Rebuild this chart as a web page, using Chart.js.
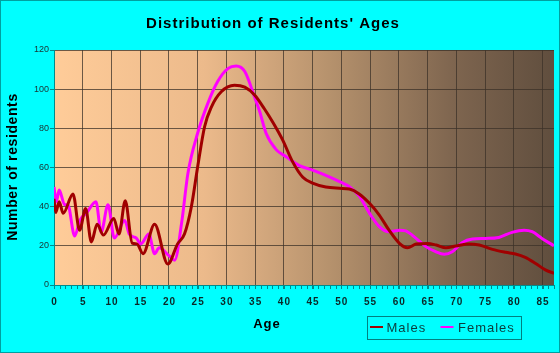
<!DOCTYPE html>
<html>
<head>
<meta charset="utf-8">
<script src="https://cdn.jsdelivr.net/npm/chart.js@4"></script>
<style>
  html, body { margin: 0; padding: 0; background: #00ffff; }
  canvas { display: block; }
</style>
</head>
<body>
<canvas id="myChart" width="560" height="353"></canvas>
<script>
// values (age, number of residents)
let maleAges = [0,0.3,0.9,1.6,3.3,4.45,5.5,6.5,7.5,8.6,10.4,11.3,12.4,13.6,14.4,15.5,17.5,19.8,21.5,22.7,23.9,25,26.2,27.4,29.1,31.4,33.2,34.9,36.6,38.1,39.8,41.5,43.3,45,47.3,49.7,51.4,53.1,54.9,56.6,58.3,60.1,61.5,63,65,66.5,68.2,69.9,72.2,74,76.3,78.6,80.3,82,83.8,85.5,87];
let maleCounts = [44,37,42.5,36.6,46.5,28,39,22,31,25.5,34,26,43,21.4,21,16,31,10.7,21,26,40,60.4,80.8,91,98.7,102,101,97,90,83,74,63,55,52,50,49.4,49,46.5,41.7,35.7,28,21.3,19,20.9,21.2,20.4,19,19.9,21,20.4,18.2,16.7,15.8,14.1,11,7.7,6];

let femaleAges = [0,0.4,0.9,1.85,2.4,3.6,4.5,5.7,7.3,8.2,9.4,10.5,12.3,13.1,14.3,15.1,16.5,17.5,18.3,20,21,22.2,23.3,25,26.8,28.5,30.3,31.7,33.2,34.9,35.8,36.9,38.7,40.4,42.7,45,47.3,49.7,51.4,53.1,54.9,56.6,58.3,60.1,61.2,63,64.7,66.4,67.9,69.3,71,72.8,75.1,77.4,79.7,81.8,83.2,84.9,87];
let femaleCounts = [50,42.5,48.5,41,41,25,33,37,42.5,27,41,24,33,26,24,21,26,16,19,15,12.7,31.6,57,77.6,93,104,110.6,111.8,109,96,88.5,77.5,69,65.5,61,58.7,56,52.8,50.2,45.5,36.6,29.8,27.2,28,27.6,23.8,19.6,17,15.7,17,21.6,23.5,23.8,24.3,26.9,28,27.2,23.8,20];

let xTicks = [0,5,10,15,20,25,30,35,40,45,50,55,60,65,70,75,80,85];
let yTicks = [0,20,40,60,80,100,120];

let seriesNames = ["Males", "Females"];
let seriesColors = ["#a00000", "#ff00ff"];

function toPoints(ages, counts) {
  return ages.map((a, i) => ({ x: a, y: counts[i] }));
}

const decor = {
  id: "decor",
  beforeDraw(chart) {
    const ctx = chart.ctx;
    const a = chart.chartArea;
    ctx.save();
    ctx.fillStyle = "#00ffff";
    ctx.fillRect(0, 0, chart.width, chart.height);
    ctx.strokeStyle = "#00a0a0";
    ctx.lineWidth = 1;
    ctx.strokeRect(0.5, 0.5, chart.width - 1, chart.height - 1);

    let g = ctx.createLinearGradient(a.left, 0, a.right, 0);
    g.addColorStop(0, "rgb(255,204,153)");
    g.addColorStop(0.3, "rgb(236,186,139)");
    g.addColorStop(0.55, "rgb(182,146,109)");
    g.addColorStop(0.8, "rgb(126,101,79)");
    g.addColorStop(1, "rgb(96,78,62)");
    ctx.fillStyle = g;
    ctx.fillRect(a.left, a.top, a.right - a.left, a.bottom - a.top);
    ctx.restore();
  },
  afterDraw(chart) {
    const ctx = chart.ctx;
    const a = chart.chartArea;
    const xs = chart.scales.x;
    ctx.save();

    // minor ticks every year
    ctx.strokeStyle = "#008b8b";
    ctx.lineWidth = 1;
    ctx.beginPath();
    for (let age = 0; age <= 87; age++) {
      let px = Math.round(xs.getPixelForValue(age)) + 0.5;
      ctx.moveTo(px, a.bottom);
      ctx.lineTo(px, a.bottom + 4);
    }
    ctx.stroke();

    // x tick labels
    ctx.fillStyle = "#0a2828";
    ctx.font = "bold 10px Arial, 'Liberation Sans'";
    ctx.letterSpacing = "1px";
    ctx.textAlign = "center";
    ctx.textBaseline = "middle";
    xTicks.forEach(t => {
      ctx.fillText(String(t), xs.getPixelForValue(t) + 0.5, 302);
    });

    // title
    ctx.fillStyle = "#000000";
    ctx.font = "bold 15px Arial, 'Liberation Sans'";
    ctx.letterSpacing = "1px";
    ctx.textBaseline = "alphabetic";
    ctx.fillText("Distribution of Residents' Ages", 273, 28);

    // axis titles
    ctx.font = "bold 13px Arial, 'Liberation Sans'";
    ctx.letterSpacing = "1px";
    ctx.fillText("Age", 267, 328);

    ctx.save();
    ctx.translate(17, 167);
    ctx.rotate(-Math.PI / 2);
    ctx.font = "bold 14px Arial, 'Liberation Sans'";
    ctx.letterSpacing = "0.6px";
    ctx.fillText("Number of residents", 0, 0);
    ctx.restore();

    // legend
    ctx.strokeStyle = "#008080";
    ctx.lineWidth = 1;
    ctx.strokeRect(367.5, 316.5, 154, 23);
    ctx.font = "13px Arial, 'Liberation Sans'";
    ctx.letterSpacing = "1px";
    ctx.textAlign = "left";
    ctx.fillStyle = "#0a3c3c";
    let lx = [370, 440.5];
    let tx = [386.5, 458];
    seriesNames.forEach((name, i) => {
      ctx.strokeStyle = seriesColors[i];
      ctx.lineWidth = 2;
      ctx.beginPath();
      ctx.moveTo(lx[i], 327);
      ctx.lineTo(lx[i] + 13, 327);
      ctx.stroke();
      ctx.fillText(name, tx[i], 332);
    });
    ctx.restore();
  }
};

const config = {
  type: "line",
  data: {
    datasets: [
      {
        label: seriesNames[0],
        data: toPoints(maleAges, maleCounts),
        borderColor: seriesColors[0],
        borderWidth: 3,
        pointRadius: 0,
        cubicInterpolationMode: "monotone",
        fill: false,
      },
      {
        label: seriesNames[1],
        data: toPoints(femaleAges, femaleCounts),
        borderColor: seriesColors[1],
        borderWidth: 3,
        pointRadius: 0,
        cubicInterpolationMode: "monotone",
        fill: false,
      },
    ],
  },
  options: {
    responsive: false,
    devicePixelRatio: 1,
    animation: false,
    events: [],
    layout: { padding: { top: 50, right: 6, left: 0, bottom: 0 } },
    plugins: {
      legend: { display: false },
      title: { display: false },
      tooltip: { enabled: false },
    },
    scales: {
      x: {
        type: "linear",
        min: 0,
        max: 87,
        afterFit: (s) => { s.height = 68; },
        afterBuildTicks: (s) => {
          s.ticks = xTicks.map(v => ({ value: v }));
        },
        ticks: { color: "transparent", font: { size: 10 } },
        grid: { color: "rgba(60,50,40,0.75)", tickColor: "#008b8b", tickLength: 4 },
        border: { color: "#008b8b", width: 1 },
      },
      y: {
        min: 0,
        max: 120,
        afterFit: (s) => { s.width = 54; },
        afterBuildTicks: (s) => {
          s.ticks = yTicks.map(v => ({ value: v }));
        },
        ticks: { color: "#1a3030", font: { size: 9, family: "Arial, 'Liberation Sans'" }, padding: 1 },
        grid: { color: "rgba(60,50,40,0.75)", tickColor: "#008b8b", tickLength: 4 },
        border: { color: "#008b8b", width: 1 },
      },
    },
  },
  plugins: [decor],
};

const myChart = new Chart(document.getElementById("myChart"), config);
</script>
</body>
</html>
